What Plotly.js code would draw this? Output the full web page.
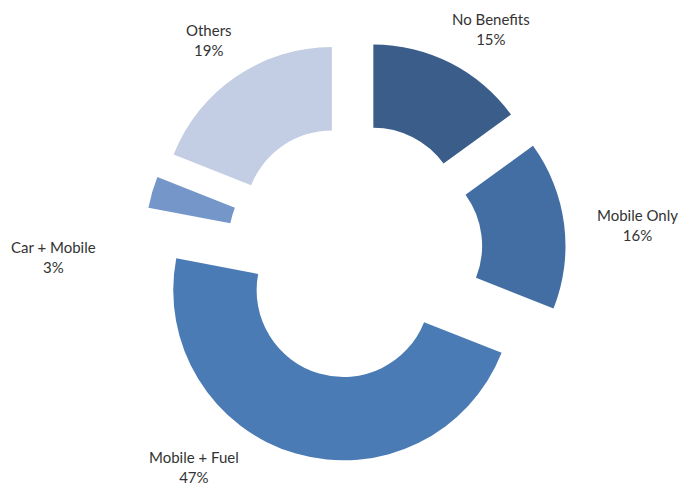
<!DOCTYPE html>
<html>
<head>
<meta charset="utf-8">
<script src="https://cdn.plot.ly/plotly-3.0.1.min.js"></script>
<style>html,body{margin:0;padding:0;background:#fff;}#chart{width:681px;height:486px;}</style>
</head>
<body>
<div id="chart"></div>
<script>
var categories = ["No Benefits", "Mobile Only", "Mobile + Fuel", "Car + Mobile", "Others"];
var shares = [15, 16, 47, 3, 19];
var sliceColors = ["#3a5d8a", "#426ea3", "#4a7bb5", "#7596c9", "#c3cde3"];

var labelFont = {family: "Lato, 'Open Sans', sans-serif", size: 15, color: "#333333"};

var trace = {
  type: "pie",
  labels: categories,
  values: shares,
  sort: false,
  direction: "clockwise",
  rotation: 0,
  hole: 0.51,
  pull: categories.map(function(){ return 0.24; }),
  marker: {colors: sliceColors, line: {width: 0}},
  textinfo: "none",
  domain: {x: [0.154, 0.888], y: [0.0494, 0.9177]},
  showlegend: false,
  hoverinfo: "label+percent"
};

// Label placement (paper coordinates), in the same order as categories
var labelSpots = [
  {x: 0.721, y: 0.9403},
  {x: 0.9361, y: 0.5370},
  {x: 0.2856, y: 0.0391},
  {x: 0.0786, y: 0.4712},
  {x: 0.3076, y: 0.9187}
];

var total = shares.reduce(function(a, b){ return a + b; }, 0);
var annotations = categories.map(function(c, i){
  return {
    xref: "paper", yref: "paper",
    x: labelSpots[i].x, y: labelSpots[i].y,
    xanchor: "center", yanchor: "middle",
    showarrow: false,
    align: "center",
    text: c + "<br>" + Math.round(shares[i] / total * 100) + "%",
    font: labelFont
  };
});

var layout = {
  width: 681,
  height: 486,
  margin: {l: 0, r: 0, t: 0, b: 0},
  paper_bgcolor: "#ffffff",
  showlegend: false,
  font: labelFont,
  annotations: annotations
};

Plotly.newPlot("chart", [trace], layout, {displayModeBar: false, staticPlot: true});
</script>
</body>
</html>
